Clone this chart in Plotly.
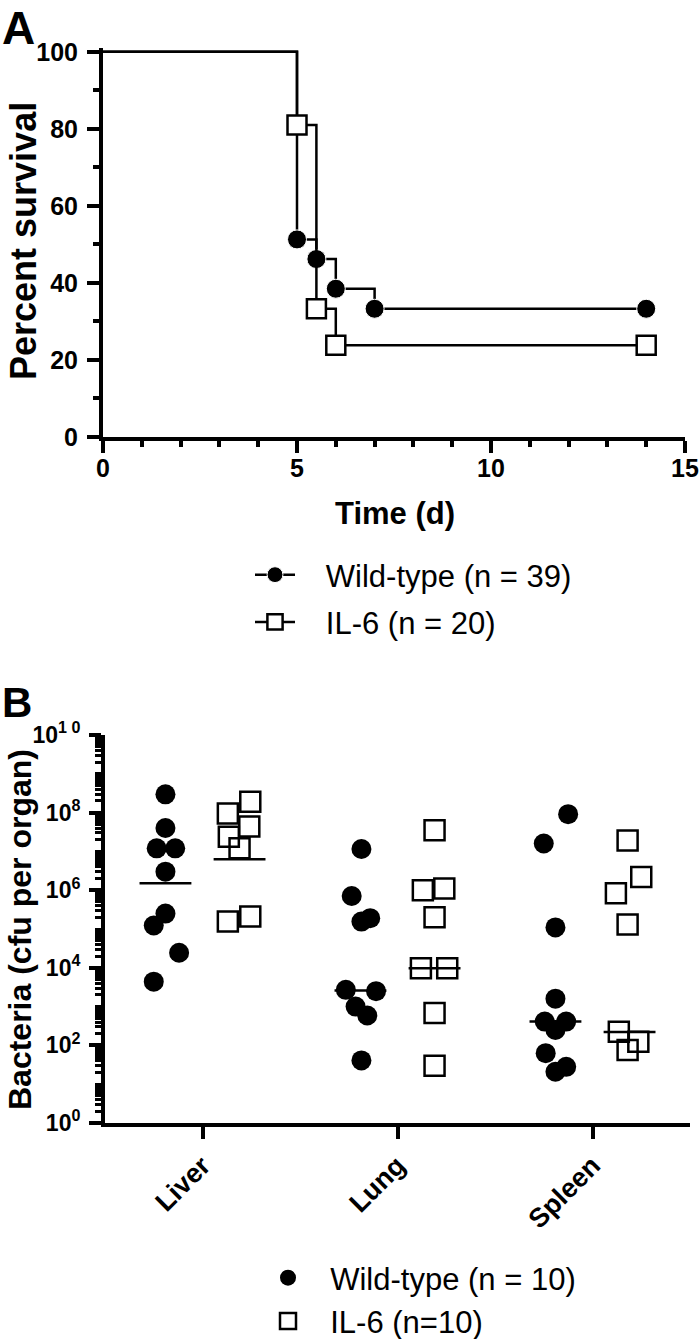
import plotly.graph_objects as go

W, H = 700, 1339
FONT = "Liberation Sans, Arial, sans-serif"
PAD_A = "\u00a0\u00a0\u00a0"  # gap between legend symbol and legend text
PAD_B = "\u00a0\u00a0"

# ---- panel A: survival (Kaplan-Meier steps) ----
days_wt = [0, 5, 5.5, 6, 7, 14]
surv_wt = [100, 51.3, 46.2, 38.5, 33.3, 33.3]
days_il6 = [0, 5, 5.5, 6, 14]
surv_il6 = [100, 81.0, 33.3, 23.8, 23.8]

# ---- panel B: bacterial load, cfu per organ ----
organs = ["Liver", "Lung", "Spleen"]

liver_wt = [2.95e8, 4.0e7, 1.2e7, 1.2e7, 3.0e6, 2.5e5, 1.23e5, 2.45e4, 4.4e3]
liver_wt_dx = [-0.19, -0.19, -0.235, -0.14, -0.19, -0.19, -0.25, -0.12, -0.25]
lung_wt = [1.15e7, 7.1e5, 1.55e5, 1.9e5, 2.7e3, 2.5e3, 1.0e3, 5.9e2, 41]
lung_wt_dx = [-0.185, -0.235, -0.185, -0.14, -0.265, -0.11, -0.215, -0.155, -0.185]
spleen_wt = [9.1e7, 1.6e7, 1.1e5, 1.6e3, 410, 410, 250, 63, 21, 28]
spleen_wt_dx = [-0.125, -0.25, -0.19, -0.19, -0.245, -0.135, -0.19, -0.24, -0.19, -0.135]

liver_il6 = [1.9e8, 9.5e7, 4.4e7, 2.4e7, 1.2e7, 1.55e5, 2.1e5]
liver_il6_dx = [0.245, 0.13, 0.24, 0.135, 0.19, 0.13, 0.245]
lung_il6 = [3.5e7, 1.0e6, 1.1e6, 2.0e5, 9.8e3, 9.8e3, 680, 30]
lung_il6_dx = [0.19, 0.13, 0.24, 0.19, 0.12, 0.255, 0.19, 0.19]
spleen_il6 = [1.9e7, 2.2e6, 8.3e5, 1.3e5, 225, 125, 76]
spleen_il6_dx = [0.18, 0.25, 0.12, 0.18, 0.135, 0.235, 0.18]

median_wt = [1.5e6, 2.6e3, 410]
median_il6 = [6.3e6, 9.8e3, 220]

ytick_vals = [1, 1e2, 1e4, 1e6, 1e8, 1e10]
ytick_text = ["10<sup>0</sup>", "10<sup>2</sup>", "10<sup>4</sup>", "10<sup>6</sup>",
              "10<sup>8</sup>", "10<sup>1 0</sup>"]


def px_x(p):
    return p / W


def px_y(p):
    return (H - p) / H


fig = go.Figure()

# survival curves
fig.add_trace(go.Scatter(
    x=days_wt, y=surv_wt, mode="lines+markers", line_shape="hv",
    name=PAD_A + "Wild-type (n = 39)", legend="legend", legendgroup="a1",
    line=dict(color="black", width=2.5),
    marker=dict(symbol="circle", color="black", opacity=1,
                size=[0] + [19] * (len(days_wt) - 1)),
    cliponaxis=False, xaxis="x", yaxis="y"))
fig.add_trace(go.Scatter(
    x=days_il6, y=surv_il6, mode="lines+markers", line_shape="hv",
    name=PAD_A + "IL-6 (n = 20)", legend="legend", legendgroup="a2",
    line=dict(color="black", width=2.5),
    marker=dict(symbol="square", color="white", opacity=1,
                size=[0] + [19] * (len(days_il6) - 1),
                line=dict(color="black", width=2.5)),
    cliponaxis=False, xaxis="x", yaxis="y"))

# bacterial counts
wt_x, wt_y, il_x, il_y = [], [], [], []
for i, (vals, dx) in enumerate([(liver_wt, liver_wt_dx), (lung_wt, lung_wt_dx), (spleen_wt, spleen_wt_dx)]):
    wt_x += [i + d for d in dx]
    wt_y += vals
for i, (vals, dx) in enumerate([(liver_il6, liver_il6_dx), (lung_il6, lung_il6_dx), (spleen_il6, spleen_il6_dx)]):
    il_x += [i + d for d in dx]
    il_y += vals

med_x, med_y = [], []
half = 0.133
for i in range(len(organs)):
    for c, m in ((i - 0.19, median_wt[i]), (i + 0.19, median_il6[i])):
        med_x += [c - half, c + half, None]
        med_y += [m, m, None]

fig.add_trace(go.Scatter(
    x=wt_x, y=wt_y, mode="markers", name=PAD_B + "Wild-type (n = 10)",
    legend="legend2", legendgroup="b1",
    marker=dict(symbol="circle", color="black", size=20, opacity=1),
    cliponaxis=False, xaxis="x2", yaxis="y2"))
fig.add_trace(go.Scatter(
    x=il_x, y=il_y, mode="markers", name=PAD_B + "IL-6 (n=10)",
    legend="legend2", legendgroup="b2",
    marker=dict(symbol="square-open", color="black", size=20, opacity=1,
                line=dict(width=2.5)),
    cliponaxis=False, xaxis="x2", yaxis="y2"))
fig.add_trace(go.Scatter(
    x=med_x, y=med_y, mode="lines", showlegend=False,
    line=dict(color="black", width=2.5), xaxis="x2", yaxis="y2"))

tickfont = dict(family=FONT, size=25, color="black", weight="bold")
axis_common = dict(showline=True, linecolor="black", linewidth=4, showgrid=False,
                   zeroline=False, ticks="outside", ticklen=12, tickwidth=4,
                   tickcolor="black", tickfont=tickfont, automargin=False,
                   ticklabeloverflow="allow")

fig.update_layout(
    template="none",
    width=W, height=H, margin=dict(l=0, r=0, t=0, b=0, autoexpand=False),
    paper_bgcolor="white", plot_bgcolor="white",
    font=dict(family=FONT, color="black"),
    xaxis=dict(domain=[px_x(103), px_x(685)], range=[0, 15], tickvals=[0, 5, 10, 15], anchor="y",
               minor=dict(dtick=1, ticks="outside", ticklen=6, tickwidth=4, tickcolor="black"),
               ticklabelstandoff=-6, **axis_common),
    yaxis=dict(domain=[px_y(437), px_y(48)], range=[0, 101], tickvals=[0, 20, 40, 60, 80, 100],
               anchor="x",
               minor=dict(tickvals=[10, 30, 50, 70, 90], ticks="outside", ticklen=6, tickwidth=4,
                          tickcolor="black"),
               ticklabelstandoff=4, **axis_common),
    xaxis2=dict(domain=[px_x(105), px_x(690)], range=[-0.5, 2.5], tickvals=[0, 1, 2],
                ticktext=organs, tickangle=-45, anchor="y2",
                **{**axis_common, "tickfont": dict(family=FONT, size=27, color="black", weight="bold")}),
    yaxis2=dict(domain=[px_y(1123), px_y(735)], type="log", range=[0, 10], anchor="x2",
                tickvals=ytick_vals, ticktext=ytick_text,
                minor=dict(dtick="D1", ticks="outside", ticklen=6, tickwidth=3, tickcolor="black"),
                ticklabelstandoff=4,
                **{**axis_common, "tickfont": dict(family=FONT, size=23, color="black", weight="bold")}),
    legend=dict(x=px_x(250), y=px_y(548), xanchor="left", yanchor="top",
                font=dict(family=FONT, size=31, color="black"), itemwidth=40,
                bgcolor="rgba(0,0,0,0)", tracegroupgap=4),
    legend2=dict(x=px_x(263), y=px_y(1251), xanchor="left", yanchor="top",
                 font=dict(family=FONT, size=31, color="black"), itemwidth=40,
                 bgcolor="rgba(0,0,0,0)", tracegroupgap=0),
    showlegend=True,
)

annotations = [
    dict(text="A", x=0, y=1, xanchor="left", yanchor="top",
         font=dict(size=46, weight="bold")),
    dict(text="B", x=0, y=px_y(702), xanchor="left", yanchor="middle",
         font=dict(size=42, weight="bold")),
    dict(text="Percent survival", x=px_x(23), y=px_y(241), textangle=-90,
         xanchor="center", yanchor="middle", font=dict(size=36, weight="bold")),
    dict(text="Time (d)", x=px_x(395), y=px_y(513), xanchor="center", yanchor="middle",
         font=dict(size=31, weight="bold")),
    dict(text="Bacteria (cfu per organ)", x=px_x(20), y=px_y(930), textangle=-90,
         xanchor="center", yanchor="middle", font=dict(size=32, weight="bold")),
]
for a in annotations:
    a.update(xref="paper", yref="paper", showarrow=False)
    a["font"].update(family=FONT, color="black")
fig.update_layout(annotations=annotations)

# the page's default body margin would offset the 700x1339 figure
fig.write_html("out.html", config={"displayModeBar": False},
               post_script="document.body.style.margin = '0px';")
